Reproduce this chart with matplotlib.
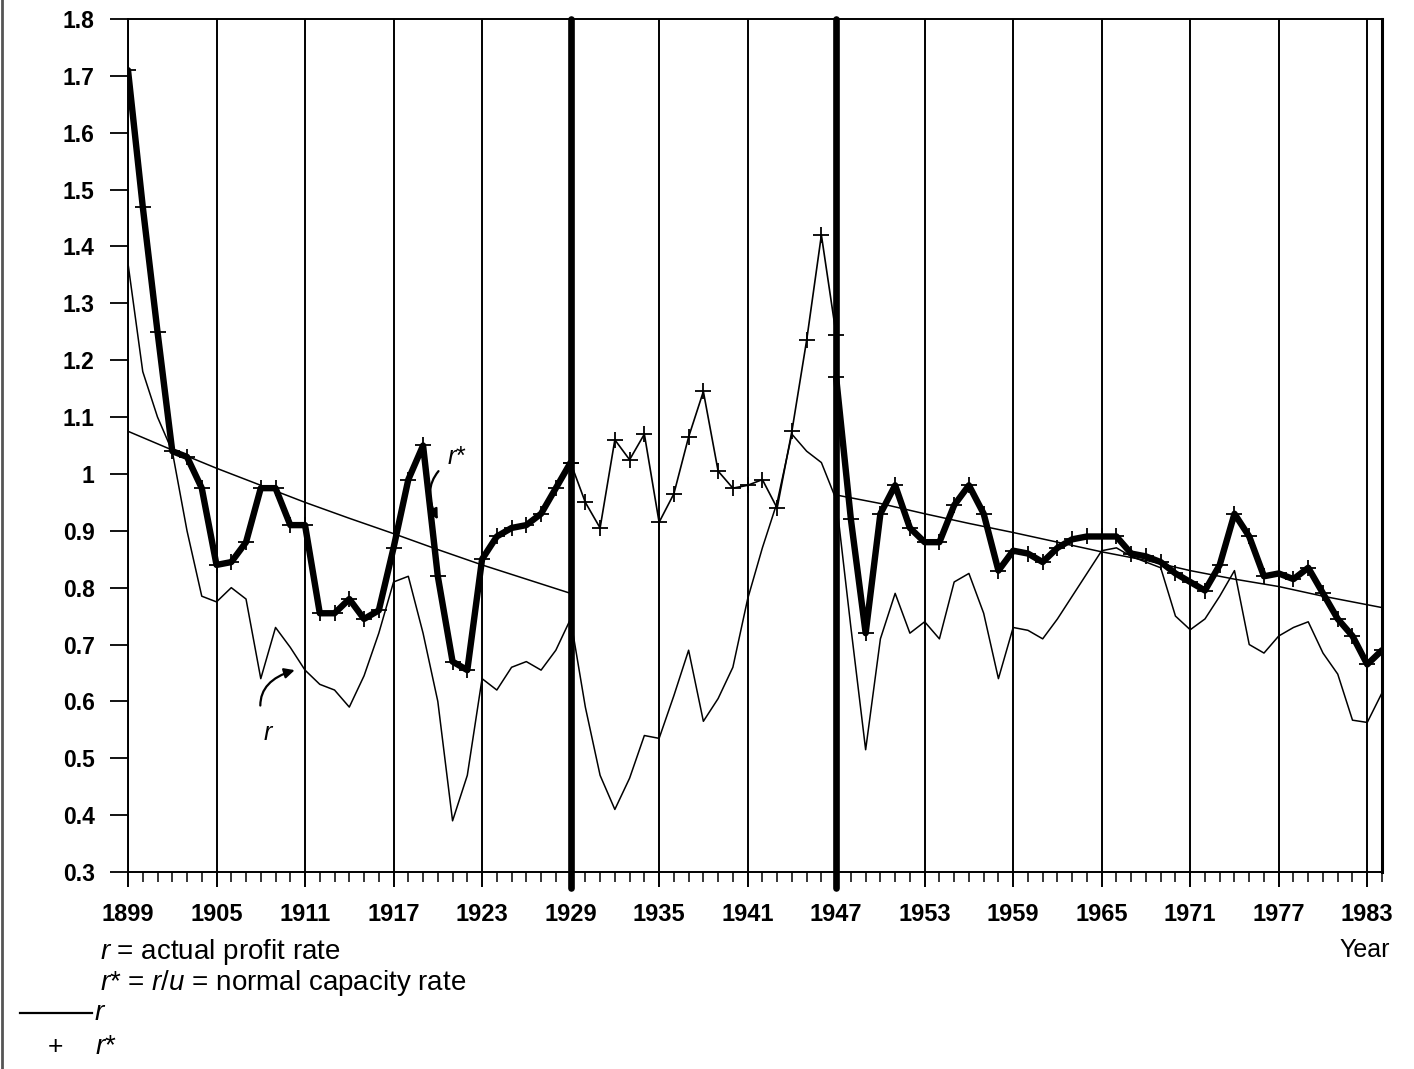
import matplotlib
matplotlib.use('Agg')
import matplotlib.pyplot as plt
from matplotlib.lines import Line2D
from matplotlib.ticker import FixedLocator, FixedFormatter, MultipleLocator

plt.rcParams['font.family'] = ['Liberation Sans', 'DejaVu Sans']
plt.rcParams['mathtext.fontset'] = 'custom'
plt.rcParams['mathtext.it'] = 'Liberation Sans:italic'
plt.rcParams['mathtext.rm'] = 'Liberation Sans'

# ---------------- data ----------------
years = list(range(1899, 1985))

# r = actual profit rate (thin line)
r = [1.37, 1.18, 1.10, 1.04, 0.90, 0.785, 0.775, 0.80, 0.78, 0.64,
     0.73, 0.695, 0.655, 0.63, 0.62, 0.59, 0.645, 0.72, 0.81, 0.82,
     0.72, 0.60, 0.39, 0.47, 0.64, 0.62, 0.66, 0.67, 0.655, 0.69,
     0.745, 0.59, 0.47, 0.41, 0.465, 0.54, 0.535, 0.61, 0.69, 0.565,
     0.605, 0.66, 0.78, 0.87, 0.95, 1.07, 1.04, 1.02, 0.955, 0.73,
     0.515, 0.71, 0.79, 0.72, 0.74, 0.71, 0.81, 0.825, 0.755, 0.64,
     0.73, 0.725, 0.71, 0.745, 0.785, 0.825, 0.865, 0.87, 0.855, 0.845,
     0.835, 0.75, 0.726, 0.745, 0.785, 0.83, 0.70, 0.685, 0.715, 0.73,
     0.74, 0.685, 0.648, 0.567, 0.563, 0.615]

# r* = r/u = normal capacity rate (three segments)
rstar_early_years = list(range(1899, 1930))
rstar_early = [1.71, 1.47, 1.25, 1.04, 1.03, 0.975, 0.84, 0.845, 0.88, 0.975,
               0.975, 0.91, 0.91, 0.755, 0.755, 0.78, 0.745, 0.76, 0.87, 0.99,
               1.05, 0.82, 0.67, 0.655, 0.85, 0.89, 0.905, 0.91, 0.93, 0.975,
               1.02]
rstar_mid_years = list(range(1929, 1948))
rstar_mid = [1.02, 0.95, 0.905, 1.06, 1.025, 1.07, 0.915, 0.965, 1.065, 1.145,
             1.005, 0.975, 0.98, 0.99, 0.94, 1.075, 1.235, 1.42, 1.245]
rstar_late_years = list(range(1947, 1985))
rstar_late = [1.17, 0.92, 0.72, 0.93, 0.98, 0.905, 0.88, 0.88, 0.945, 0.98,
              0.93, 0.83, 0.865, 0.86, 0.845, 0.87, 0.885, 0.89, 0.89, 0.89,
              0.86, 0.855, 0.845, 0.825, 0.81, 0.795, 0.84, 0.93, 0.89, 0.82,
              0.825, 0.815, 0.835, 0.79, 0.745, 0.715, 0.665, 0.69]

# trend lines
trend_early_years = [1899, 1902, 1905, 1908, 1911, 1914, 1917, 1920, 1923, 1926, 1929]
trend_early = [1.075, 1.042, 1.01, 0.98, 0.95, 0.922, 0.895, 0.867, 0.84, 0.815, 0.79]
trend_late_years = [1947, 1950, 1953, 1956, 1959, 1962, 1965, 1968, 1971, 1974, 1977, 1980, 1983, 1984]
trend_late = [0.963, 0.948, 0.93, 0.913, 0.897, 0.88, 0.863, 0.848, 0.83, 0.815, 0.802, 0.785, 0.77, 0.765]

x_tick_years = list(range(1899, 1984, 6))
x_tick_labels = [str(y) for y in x_tick_years]
y_ticks = [0.3, 0.4, 0.5, 0.6, 0.7, 0.8, 0.9, 1.0, 1.1, 1.2, 1.3, 1.4, 1.5, 1.6, 1.7, 1.8]
y_tick_labels = ['0.3', '0.4', '0.5', '0.6', '0.7', '0.8', '0.9', '1', '1.1', '1.2',
                 '1.3', '1.4', '1.5', '1.6', '1.7', '1.8']
break_years = [1929, 1947]

# ---------------- figure ----------------
W, H = 1414, 1069
fig = plt.figure(figsize=(W / 100, H / 100), dpi=100)
ax = fig.add_axes([128 / W, 1 - 872 / H, (1382 - 128) / W, (872 - 19) / H])
ax.set_xlim(1899, 1984)
ax.set_ylim(0.3, 1.8)

K = 'black'
# gridlines at labelled years
for yv in x_tick_years:
    if yv in break_years:
        continue
    ax.axvline(yv, color=K, lw=1.4, zorder=1)
for yv in break_years:
    ax.axvline(yv, ymin=-0.019, ymax=1.0, color=K, lw=4.8, zorder=5,
               clip_on=False, solid_capstyle='round')

# series
ax.plot(years, r, color=K, lw=1.1, zorder=3)
ax.plot(trend_early_years, trend_early, color=K, lw=1.1, zorder=3)
ax.plot(trend_late_years, trend_late, color=K, lw=1.1, zorder=3)
ax.plot(rstar_mid_years, rstar_mid, color=K, lw=1.2, marker='+', ms=11, mew=1.3, zorder=4)
ax.plot(rstar_early_years, rstar_early, color=K, lw=4.6, marker='+', ms=11, mew=1.3,
        zorder=4, solid_joinstyle='round', solid_capstyle='round')
ax.plot(rstar_late_years, rstar_late, color=K, lw=4.6, marker='+', ms=11, mew=1.3,
        zorder=4, solid_joinstyle='round', solid_capstyle='round')

# spines
for s in ['left', 'top', 'bottom']:
    ax.spines[s].set_linewidth(1.4)
ax.spines['right'].set_linewidth(2.2)

# ticks
ax.xaxis.set_major_locator(FixedLocator(x_tick_years))
ax.xaxis.set_major_formatter(FixedFormatter(x_tick_labels))
ax.xaxis.set_minor_locator(MultipleLocator(1))
ax.yaxis.set_major_locator(FixedLocator(y_ticks))
ax.yaxis.set_major_formatter(FixedFormatter(y_tick_labels))
ax.tick_params(axis='x', which='major', direction='out', length=11, width=1.4,
               pad=11, labelsize=17)
ax.tick_params(axis='x', which='minor', direction='out', length=7.5, width=1.1)
ax.tick_params(axis='y', which='major', direction='out', length=13, width=1.3,
               pad=11, labelsize=16.5)
for lab in ax.get_xticklabels() + ax.get_yticklabels():
    lab.set_fontweight('bold')

# annotations on the chart
ax.annotate('$r$*', xy=(1920.0, 0.92), xytext=(1921.3, 1.03), fontsize=18,
            ha='center', va='center', zorder=7,
            arrowprops=dict(arrowstyle='-|>', connectionstyle='arc3,rad=0.5',
                            lw=1.6, color=K, shrinkA=6, shrinkB=0, mutation_scale=15))
ax.annotate('$r$', xy=(1910.3, 0.655), xytext=(1908.5, 0.545), fontsize=18,
            ha='center', va='center', zorder=7,
            arrowprops=dict(arrowstyle='-|>', connectionstyle='arc3,rad=-0.6',
                            lw=1.6, color=K, shrinkA=9, shrinkB=0, mutation_scale=15))

# text below the chart
fig.text(1390 / W, 1 - 950 / H, 'Year', ha='right', va='center', fontsize=18)
fig.text(100 / W, 1 - 952 / H, '$r$ = actual profit rate', ha='left', va='center', fontsize=20)
fig.text(100 / W, 1 - 983 / H, '$r$* = $r/u$ = normal capacity rate', ha='left',
         va='center', fontsize=20)
fig.add_artist(Line2D([20 / W, 92 / W], [1 - 1013 / H, 1 - 1013 / H], color=K, lw=1.6))
fig.text(94 / W, 1 - 1013 / H, '$r$', ha='left', va='center', fontsize=20)
fig.text(55 / W, 1 - 1047 / H, '+', ha='center', va='center', fontsize=19)
fig.text(95 / W, 1 - 1047 / H, '$r$*', ha='left', va='center', fontsize=20)
fig.add_artist(Line2D([1.5 / W, 1.5 / W], [0, 1], color='#555555', lw=2))

fig.savefig('out.png', dpi=100)
